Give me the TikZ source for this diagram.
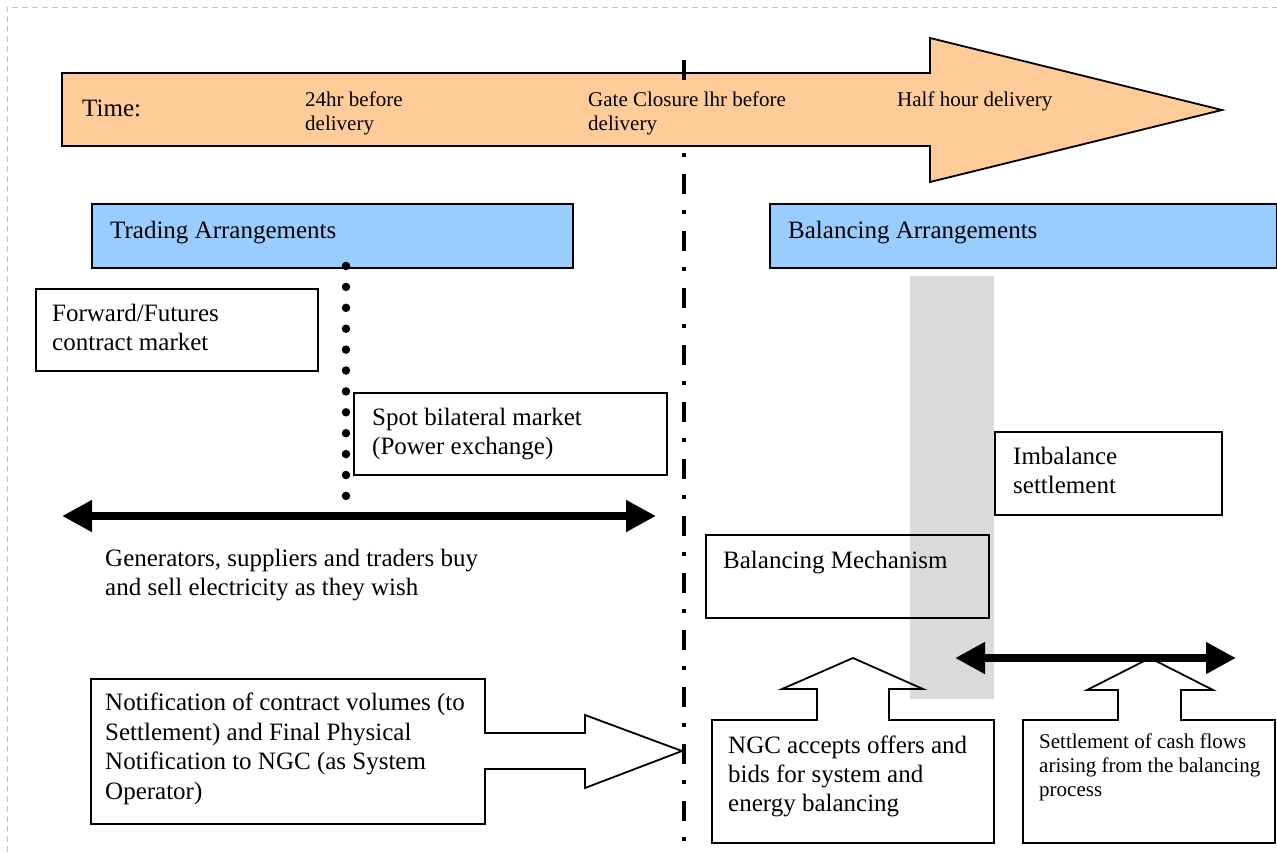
\documentclass[tikz,border=0pt]{standalone}
\usepackage{fontspec}
\setmainfont{Liberation Serif}
\usetikzlibrary{arrows.meta}
\definecolor{peach}{HTML}{FFCC99}
\definecolor{skyb}{HTML}{99CCFF}
\definecolor{greyband}{HTML}{DADADA}
\definecolor{framegray}{HTML}{C4C4C4}
\begin{document}
\begin{tikzpicture}[x=1pt,y=-1pt,
  box/.style={draw=black, line width=1.8pt, inner sep=0pt, anchor=north west},
  shapeline/.style={draw=black, line width=1.8pt, line join=miter},
  txt/.style={font=\fontsize{25}{29}\selectfont, inner sep=0pt, align=left, anchor=base west},
  small/.style={font=\fontsize{21}{24}\selectfont, inner sep=0pt, align=left, anchor=base west},
  fatarrow/.style={line width=8pt, {Triangle[length=30pt,width=30pt]}-{Triangle[length=30pt,width=30pt]}},
  dashdot/.style={line width=4pt, dash pattern=on 20pt off 16pt on 4pt off 17pt},
  dotline/.style={line width=8.5pt, line cap=round, dash pattern=on 0pt off 20.9pt}
]
\useasboundingbox (0,0) rectangle (1277,852);
% outer frame
\draw[framegray, line width=1pt, dash pattern=on 6pt off 4pt] (7,852) -- (7,7) -- (1277,7);

% gate closure line
\coordinate (gtop) at (684,60);
\coordinate (gbot) at (684,852);
\draw[dashdot] (gtop) -- (gbot);

% timeline arrow
\draw[shapeline, fill=peach] (62,73) -- (930,73) -- (930,38) -- (1222,110) -- (930,182) -- (930,146) -- (62,146) -- cycle;
\coordinate (tickend) at (684,80);
\draw[line width=4pt] (gtop) -- (tickend);
\node[txt] (ttime) at (82,116) {Time:};
\node[small] (t24) at (305,130) {24hr before\\delivery};
\node[small] (tgate) at (588,130) {Gate Closure lhr before\\delivery};
\node[small] (thalf) at (897,106) {Half hour delivery};

% headers
\node[box, fill=skyb, minimum width=481pt, minimum height=64pt] (tradebox) at (91,203) {};
\node[txt] (trade) at (110,238) {Trading Arrangements};
\node[box, fill=skyb, minimum width=507pt, minimum height=64pt] (balbox) at (769,203) {};
\node[txt] (bal) at (788,238) {Balancing Arrangements};

% grey band
\fill[greyband] (910,276) rectangle (994,699);

% dotted line
\coordinate (dtop) at (346,266);
\coordinate (dbot) at (346,497);
\draw[dotline] (dtop) -- (dbot);

% left boxes
\node[box, fill=white, minimum width=282pt, minimum height=82pt] (fwdbox) at (35,288) {};
\node[txt] (fwd) at (52,350) {Forward/Futures\\contract market};
\node[box, fill=white, minimum width=313pt, minimum height=82pt] (spotbox) at (353,392) {};
\node[txt] (spot) at (372,454) {Spot bilateral market\\(Power exchange)};

% left double arrow
\coordinate (la) at (62,516);
\coordinate (lb) at (656,516);
\draw[fatarrow] (la) -- (lb);
\node[txt] (gen) at (105,595) {Generators, suppliers and traders buy\\and sell electricity as they wish};

% notification shape
\draw[shapeline, fill=white] (91,679) -- (485,679) -- (485,733) -- (585,733) -- (585,715) -- (682,751) -- (585,788) -- (585,769) -- (485,769) -- (485,824) -- (91,824) -- cycle;
\node[txt, font=\fontsize{25}{29.5}\selectfont] (notif) at (105,799) {Notification of contract volumes (to\\Settlement) and Final Physical\\Notification to NGC (as System\\Operator)};

% right boxes
\node[box, minimum width=283pt, minimum height=83pt] (bmbox) at (705,534) {};
\node[txt] (bm) at (723,568) {Balancing Mechanism};
\node[box, fill=white, minimum width=227pt, minimum height=83pt] (imbbox) at (994,431) {};
\node[txt] (imb) at (1013,493) {Imbalance\\settlement};

% NGC shape
\draw[shapeline] (712,720) -- (817,720) -- (817,689) -- (782,689) -- (853,658) -- (923,689) -- (889,689) -- (889,720) -- (994,720) -- (994,843) -- (712,843) -- cycle;
\node[txt] (ngc) at (728,811) {NGC accepts offers and\\bids for system and\\energy balancing};

% settlement shape
\draw[shapeline] (1023,720) -- (1118,720) -- (1118,690) -- (1087,690) -- (1150,658) -- (1213,690) -- (1181,690) -- (1181,720) -- (1275,720) -- (1275,843) -- (1023,843) -- cycle;
\node[small] (settle) at (1039,796) {Settlement of cash flows\\arising from the balancing\\process};

% right double arrow
\coordinate (ra) at (955,658);
\coordinate (rb) at (1236,658);
\draw[fatarrow] (ra) -- (rb);
\end{tikzpicture}
\end{document}
